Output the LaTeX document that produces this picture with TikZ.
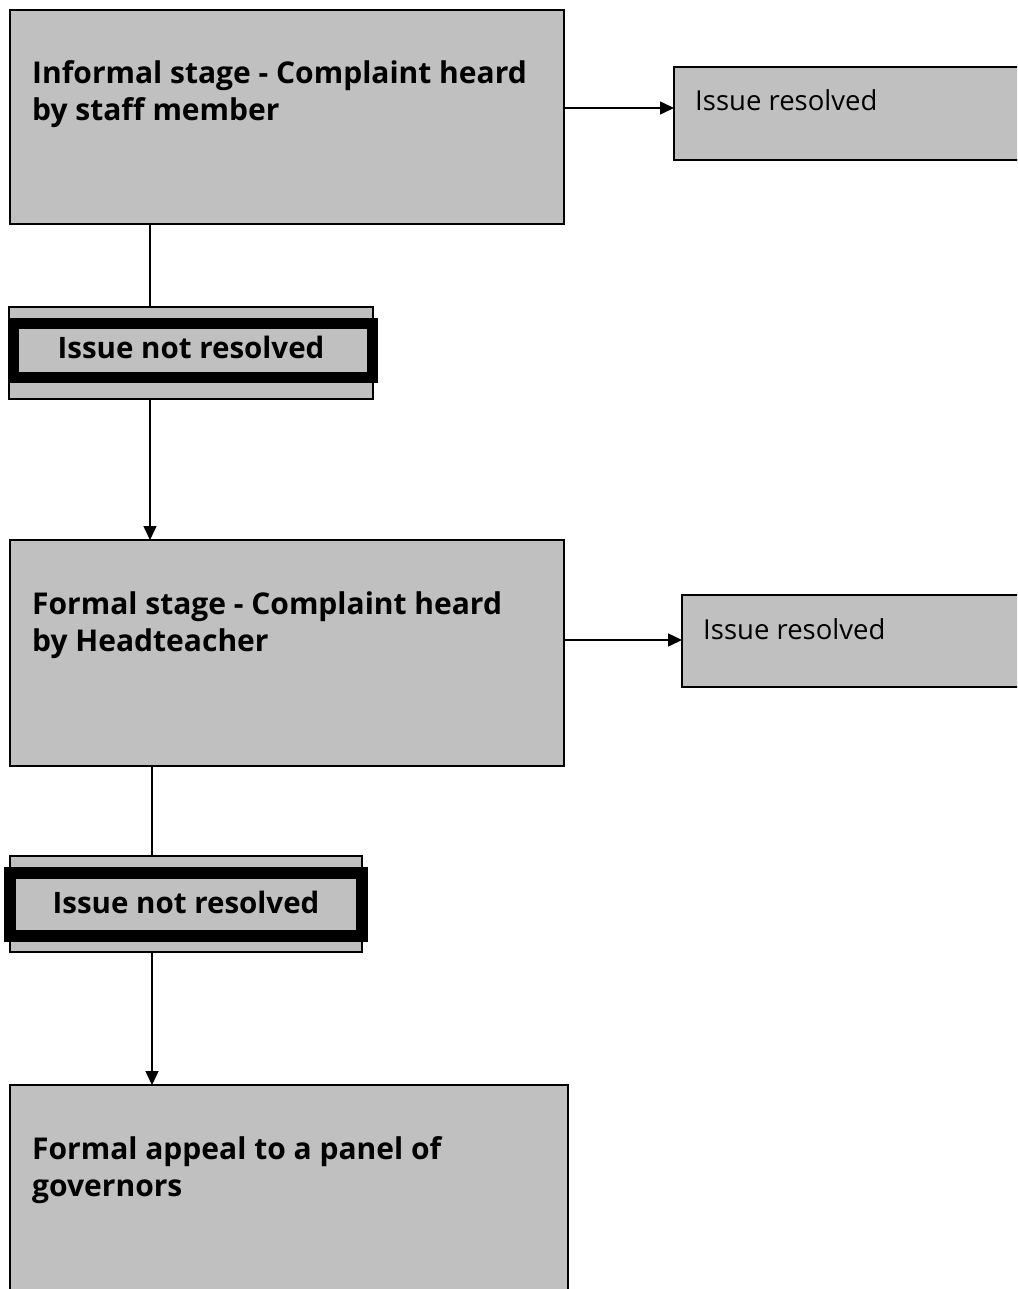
\documentclass[tikz,border=0pt]{standalone}
\usepackage{fontspec}
\setmainfont{Open Sans}
\usetikzlibrary{arrows.meta}
\definecolor{boxgray}{RGB}{192,192,192}
\tikzset{
  box/.style={draw=black, line width=1.5pt, fill=boxgray, rectangle, inner sep=0pt, outer sep=0pt, anchor=north west},
  frame/.style={draw=black, rectangle, inner sep=0pt, outer sep=0pt, anchor=north west},
  btext/.style={font=\fontsize{30}{37}\selectfont\bfseries, align=left, anchor=base west, inner sep=0pt},
  ntext/.style={font=\fontsize{29.5}{37}\selectfont\bfseries, anchor=base, inner sep=0pt},
  rtext/.style={font=\fontsize{27.5}{33}\selectfont, anchor=base west, inner sep=0pt},
  link/.style={line width=1.5pt, draw=black},
  arr/.style={line width=1.5pt, draw=black, -{Triangle[length=14pt,width=13pt]}}
}
\begin{document}
\begin{tikzpicture}[x=1pt,y=-1pt]
\useasboundingbox (0,0) rectangle (1017,1289);
\clip (0,0) rectangle (1017,1289);
% main boxes
\node[box, minimum width=554pt, minimum height=214pt] (b1) at (10,10) {};
\node[box, minimum width=554pt, minimum height=226pt] (b2) at (10,540) {};
\node[box, minimum width=558pt, minimum height=230pt] (b3) at (10,1085) {};
% resolved boxes
\node[box, minimum width=360pt, minimum height=93pt] (r1) at (674,67) {};
\node[box, minimum width=360pt, minimum height=92pt] (r2) at (682,595) {};
% not-resolved boxes
\node[box, minimum width=364pt, minimum height=92pt] (n1) at (9,307) {};
\node[frame, line width=11pt, minimum width=359pt, minimum height=54pt] (f1) at (13.5,323.5) {};
\node[box, minimum width=352pt, minimum height=96pt] (n2) at (10,856) {};
\node[frame, line width=12pt, minimum width=352pt, minimum height=63pt] (f2) at (10,873) {};
% texts (base anchor = baseline of last line)
\node[btext] (t1) at (32,121) {Informal stage - Complaint heard\\by staff member};
\node[btext] (t2) at (32,651) {Formal stage - Complaint heard\\by Headteacher};
\node[btext] (t3) at (32,1196) {Formal appeal to a panel of\\governors};
\node[rtext] (tr1) at (695,111) {Issue resolved};
\node[rtext] (tr2) at (703,639) {Issue resolved};
\node[ntext] (tn1) at (191,358) {Issue not resolved};
\node[ntext] (tn2) at (186,913) {Issue not resolved};
% helper coordinates
\coordinate (xa) at (150,0);
\coordinate (xb) at (152,0);
\coordinate (ya) at (0,108);
\coordinate (yb) at (0,640);
% connectors
\draw[arr] (b1.east |- ya) -- (r1.west |- ya);
\draw[arr] (b2.east |- yb) -- (r2.west |- yb);
\draw[link] (b1.south -| xa) -- (n1.north -| xa);
\draw[arr] (n1.south -| xa) -- (b2.north -| xa);
\draw[link] (b2.south -| xb) -- (n2.north -| xb);
\draw[arr] (n2.south -| xb) -- (b3.north -| xb);
\end{tikzpicture}
\end{document}
